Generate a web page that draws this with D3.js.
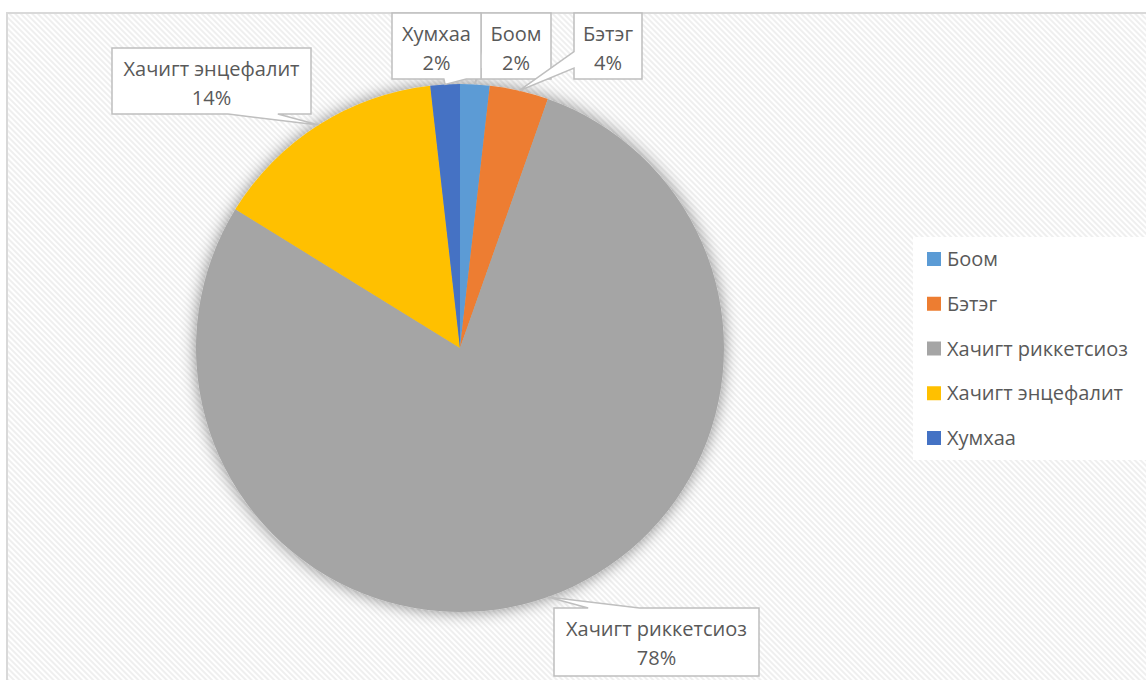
<!DOCTYPE html>
<html>
<head>
<meta charset="utf-8">
<script src="https://cdn.jsdelivr.net/npm/d3@7"></script>
<style>
  body { margin: 0; background: #fff; }
  text { font-family: "Open Sans", "Liberation Sans", Arial, sans-serif; fill: #595959; }
</style>
</head>
<body>
<svg id="chart" width="1146" height="680"></svg>
<script>
const categories = ['Боом', 'Бэтэг', 'Хачигт риккетсиоз', 'Хачигт энцефалит', 'Хумхаа'];
const values = [1.8, 3.6, 78.4, 14.4, 1.8];
const colors = ['#5b9bd5', '#ed7d31', '#a5a5a5', '#ffc000', '#4472c4'];

// callout box centres (offset from pie centre) and sizes
const calloutLayout = [
    { cx: 56, cy: -302, w: 70, h: 66 },
    { cx: 148, cy: -302, w: 68, h: 66 },
    { cx: 196.5, cy: 294, w: 205, h: 68 },
    { cx: -248.5, cy: -267, w: 199, h: 66 },
    { cx: -23.5, cy: -302, w: 89, h: 66 }
];

const width = 1146, height = 680;
const cx = 460, cy = 348, radius = 264;
const fontSize = 20;

const svg = d3.select('#chart');
const defs = svg.append('defs');

const pattern = defs.append('pattern')
    .attr('id', 'stripes')
    .attr('patternUnits', 'userSpaceOnUse')
    .attr('width', 4)
    .attr('height', 4)
    .attr('patternTransform', 'rotate(-45)');
pattern.append('rect').attr('width', 4).attr('height', 4).attr('fill', '#ffffff');
pattern.append('rect').attr('width', 2).attr('height', 4).attr('fill', '#efefef');

const shadow = defs.append('filter')
    .attr('id', 'pieShadow')
    .attr('x', '-20%').attr('y', '-20%')
    .attr('width', '140%').attr('height', '140%');
shadow.append('feDropShadow')
    .attr('dx', 0).attr('dy', 0)
    .attr('stdDeviation', 8)
    .attr('flood-color', '#000')
    .attr('flood-opacity', 0.45);

// chart area
svg.append('rect')
    .attr('x', 7).attr('y', 13)
    .attr('width', width).attr('height', height)
    .attr('fill', 'url(#stripes)')
    .attr('stroke', '#d9d9d9')
    .attr('stroke-width', 2);

const color = d3.scaleOrdinal().domain(categories).range(colors);
const total = d3.sum(values);
const pct = v => Math.round(v / total * 100) + '%';

const pie = d3.pie().sort(null).value(d => d.value);
const arcs = pie(categories.map((name, i) => ({ name, value: values[i] })));
const arc = d3.arc().innerRadius(0).outerRadius(radius);

const g = svg.append('g').attr('transform', `translate(${cx},${cy})`);
g.append('g')
    .attr('filter', 'url(#pieShadow)')
    .selectAll('path')
    .data(arcs)
    .join('path')
    .attr('d', arc)
    .attr('fill', d => color(d.data.name));

// Excel-style wedge rectangle callout
function calloutPath(x, y, w, h, tx, ty) {
    const dx = tx - (x + w / 2), dy = ty - (y + h / 2);
    const dz = Math.abs(dy) - Math.abs(dx * h / w);
    const xs = dx > 0 ? [7, 10] : [2, 5];
    const ys = dy > 0 ? [7, 10] : [2, 5];
    const x1 = x + w * xs[0] / 12, x2 = x + w * xs[1] / 12;
    const y1 = y + h * ys[0] / 12, y2 = y + h * ys[1] / 12;
    const p = d3.path();
    p.moveTo(x, y);
    if (dz > 0 && dy < 0) { p.lineTo(x1, y); p.lineTo(tx, ty); p.lineTo(x2, y); }
    p.lineTo(x + w, y);
    if (dz <= 0 && dx > 0) { p.lineTo(x + w, y1); p.lineTo(tx, ty); p.lineTo(x + w, y2); }
    p.lineTo(x + w, y + h);
    if (dz > 0 && dy > 0) { p.lineTo(x2, y + h); p.lineTo(tx, ty); p.lineTo(x1, y + h); }
    p.lineTo(x, y + h);
    if (dz <= 0 && dx < 0) { p.lineTo(x, y2); p.lineTo(tx, ty); p.lineTo(x, y1); }
    p.closePath();
    return p.toString();
}

const labels = g.append('g')
    .selectAll('g')
    .data(arcs)
    .join('g');

labels.append('path')
    .attr('d', (d, i) => {
        const L = calloutLayout[i];
        const a = (d.startAngle + d.endAngle) / 2;
        const tx = radius * Math.sin(a), ty = -radius * Math.cos(a);
        return calloutPath(L.cx - L.w / 2, L.cy - L.h / 2, L.w, L.h, tx, ty);
    })
    .attr('fill', '#fff')
    .attr('stroke', '#bfbfbf')
    .attr('stroke-width', 1.5);

labels.append('text')
    .attr('x', (d, i) => calloutLayout[i].cx)
    .attr('y', (d, i) => calloutLayout[i].cy - calloutLayout[i].h / 2 + 28)
    .attr('text-anchor', 'middle')
    .attr('font-size', fontSize)
    .text(d => d.data.name);

labels.append('text')
    .attr('x', (d, i) => calloutLayout[i].cx)
    .attr('y', (d, i) => calloutLayout[i].cy - calloutLayout[i].h / 2 + 57)
    .attr('text-anchor', 'middle')
    .attr('font-size', fontSize)
    .text(d => pct(d.data.value));

// legend
const legend = svg.append('g');
legend.append('rect')
    .attr('x', 913).attr('y', 237)
    .attr('width', 240).attr('height', 223)
    .attr('fill', '#fff');

const rowY = d3.scalePoint().domain(categories).range([259, 438]);
const items = legend.selectAll('g.item')
    .data(categories)
    .join('g')
    .attr('class', 'item')
    .attr('transform', d => `translate(927,${rowY(d)})`);

items.append('rect')
    .attr('x', 0).attr('y', -7)
    .attr('width', 14).attr('height', 14)
    .attr('fill', d => color(d));

items.append('text')
    .attr('x', 20).attr('y', 7)
    .attr('font-size', fontSize)
    .text(d => d);
</script>
</body>
</html>
